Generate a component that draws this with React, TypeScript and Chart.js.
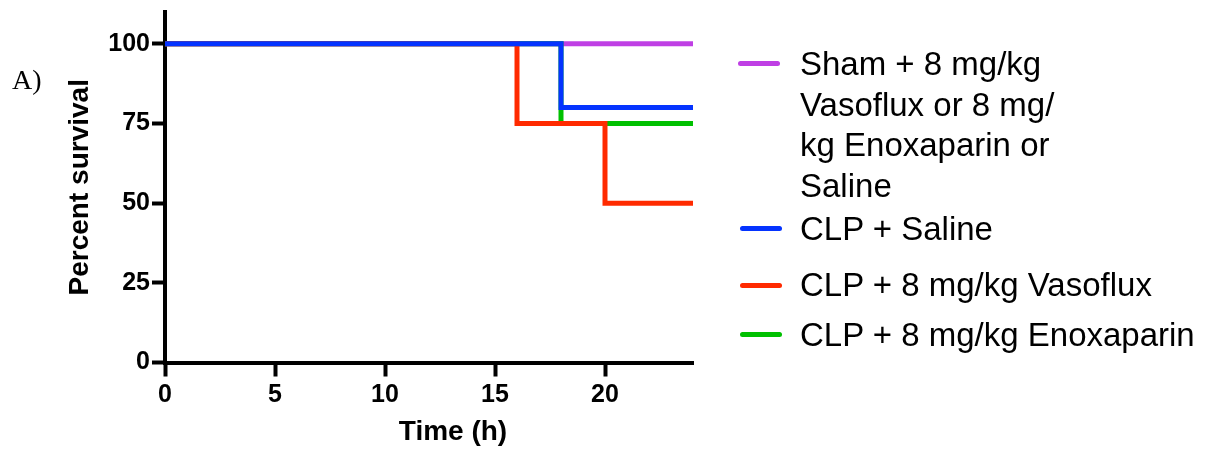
import React, { useEffect, useRef } from "react";
import { Chart, registerables } from "chart.js";

Chart.register(...registerables);

// ---- data ----
const SERIES_LABELS = [
  "Sham + 8 mg/kg Vasoflux or 8 mg/kg Enoxaparin or Saline",
  "CLP + Saline",
  "CLP + 8 mg/kg Vasoflux",
  "CLP + 8 mg/kg Enoxaparin",
];
const SHAM_TIME = [0, 24];
const SHAM_SURV = [100, 100];
const SALINE_TIME = [0, 18, 24];
const SALINE_SURV = [100, 80, 80];
const VASO_TIME = [0, 16, 20, 24];
const VASO_SURV = [100, 75, 50, 50];
const ENOX_TIME = [0, 18, 24];
const ENOX_SURV = [100, 75, 75];
const X_TICKS = [0, 5, 10, 15, 20];
const Y_TICKS = [0, 25, 50, 75, 100];
const SHAM_LEGEND_LINES = ["Sham + 8 mg/kg", "Vasoflux or 8 mg/", "kg Enoxaparin or", "Saline"];

const COLORS = ["#BF3FE4", "#0433FF", "#FF2A00", "#00C000"];

const toPts = (xs: number[], ys: number[]) => xs.map((x, i) => ({ x, y: ys[i] }));

const FONT = "'Liberation Sans', Arial, Helvetica, sans-serif";

const xTitlePlugin = {
  id: "xTitle",
  afterDraw(chart: any) {
    const { ctx, chartArea } = chart;
    ctx.save();
    ctx.font = `bold 28px ${FONT}`;
    ctx.fillStyle = "#000";
    ctx.textAlign = "center";
    ctx.textBaseline = "alphabetic";
    ctx.fillText("Time (h)", (chartArea.left + chartArea.right) / 2 + 24, 440);
    ctx.restore();
  },
};

export default function App() {
  const ref = useRef<HTMLCanvasElement | null>(null);

  useEffect(() => {
    if (!ref.current) return;
    const mk = (i: number, pts: any[], order: number) => ({
      label: SERIES_LABELS[i],
      data: pts,
      borderColor: COLORS[i],
      backgroundColor: COLORS[i],
      borderWidth: 5,
      pointRadius: 0,
      stepped: "before" as const,
      fill: false,
      order,
    });
    const chart = new Chart(ref.current, {
      type: "line",
      data: {
        datasets: [
          mk(0, toPts(SHAM_TIME, SHAM_SURV), 3),
          mk(1, toPts(SALINE_TIME, SALINE_SURV), 0),
          mk(2, toPts(VASO_TIME, VASO_SURV), 1),
          mk(3, toPts(ENOX_TIME, ENOX_SURV), 2),
        ],
      },
      options: {
        animation: false,
        responsive: false,
        devicePixelRatio: 1,
        layout: { padding: { left: 0, top: 12, right: 517, bottom: 0 } },
        plugins: { legend: { display: false }, tooltip: { enabled: false }, title: { display: false } },
        scales: {
          x: {
            type: "linear",
            min: 0,
            max: 24,
            afterBuildTicks: (s: any) => {
              s.ticks = X_TICKS.map((v) => ({ value: v }));
            },
            afterFit: (s: any) => {
              s.height = 88.5;
              s.paddingLeft = 0;
              s.paddingRight = 0;
            },
            grid: { drawOnChartArea: false, drawTicks: true, tickLength: 14, tickWidth: 4, tickColor: "#000" },
            border: { display: true, width: 4, color: "#000" },
            ticks: {
              color: "#000",
              padding: 4,
              maxRotation: 0,
              autoSkip: false,
              font: { family: FONT, size: 25, weight: "bold" },
            },
          },
          y: {
            type: "linear",
            min: 0,
            max: 110,
            afterBuildTicks: (s: any) => {
              s.ticks = Y_TICKS.map((v) => ({ value: v }));
            },
            afterFit: (s: any) => {
              s.width = 165;
              s.paddingTop = 0;
              s.paddingBottom = 0;
            },
            grid: { drawOnChartArea: false, drawTicks: true, tickLength: 13, tickWidth: 4, tickColor: "#000" },
            border: { display: true, width: 4, color: "#000" },
            ticks: {
              color: "#000",
              padding: 2,
              autoSkip: false,
              font: { family: FONT, size: 25, weight: "bold" },
            },
            title: {
              display: true,
              text: "Percent survival",
              color: "#000",
              padding: { top: 63, bottom: 0 },
              font: { family: FONT, size: 28, weight: "bold" },
            },
          },
        },
      },
      plugins: [xTitlePlugin],
    });
    return () => chart.destroy();
  }, []);

  const legendText: React.CSSProperties = {
    position: "absolute",
    left: 800,
    fontFamily: FONT,
    fontSize: 33,
    lineHeight: "40.5px",
    color: "#000",
    whiteSpace: "nowrap",
  };
  const swatch = (color: string, left: number, top: number): React.CSSProperties => ({
    position: "absolute",
    left,
    top: top - 2.5,
    width: 42,
    height: 5,
    borderRadius: 2.5,
    background: color,
  });

  return (
    <div style={{ position: "absolute", left: 0, top: 0, width: 1210, height: 451, background: "#fff", overflow: "hidden" }}>
      <canvas ref={ref} width={1210} height={451} style={{ position: "absolute", left: 0, top: 0, width: 1210, height: 451 }} />
      <div style={{ position: "absolute", left: 12, top: 65.5, fontFamily: "'Liberation Serif', 'Times New Roman', serif", fontSize: 28, lineHeight: "28px", color: "#000" }}>
        A)
      </div>
      <div style={swatch(COLORS[0], 738, 63.5)} />
      <div style={{ ...legendText, top: 44 }}>
        {SHAM_LEGEND_LINES.map((l, i) => (
          <div key={i}>{l}</div>
        ))}
      </div>
      <div style={swatch(COLORS[1], 740, 228.5)} />
      <div style={{ ...legendText, top: 208.7 }}>{SERIES_LABELS[1]}</div>
      <div style={swatch(COLORS[2], 740, 285)} />
      <div style={{ ...legendText, top: 265.4 }}>{SERIES_LABELS[2]}</div>
      <div style={swatch(COLORS[3], 740, 334.5)} />
      <div style={{ ...legendText, top: 315.4 }}>{SERIES_LABELS[3]}</div>
    </div>
  );
}
